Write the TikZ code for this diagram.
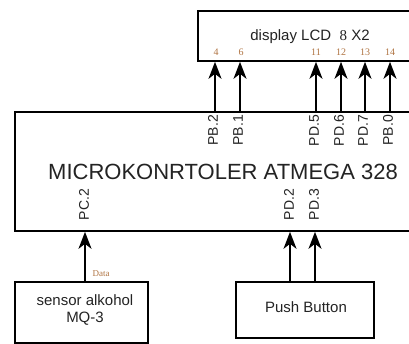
\documentclass[tikz,border=0pt]{standalone}
\usepackage{fontspec}
\setmainfont{Liberation Sans}
\newfontfamily\seriff{Liberation Serif}
\usetikzlibrary{arrows.meta}
\definecolor{pinnum}{RGB}{175,115,65}
\definecolor{txt}{RGB}{35,35,35}
\begin{document}
\begin{tikzpicture}[x=1pt,y=-1pt,
  box/.style={draw=black,line width=1.8pt,inner sep=0pt},
  arr/.style={line width=1.8pt,-{Stealth[length=17pt,width=13pt,inset=5pt]}},
  pin/.style={rotate=90,anchor=east,font=\fontsize{14}{14}\selectfont,text=txt,inner sep=0pt},
  num/.style={font=\seriff\fontsize{10}{10}\selectfont,text=pinnum,inner sep=0pt},
  lbl/.style={font=\fontsize{15}{17}\selectfont,text=txt,align=center}]
\clip (0,0) rectangle (409,343);
% boxes
\node[box,anchor=north west,minimum width=230pt,minimum height=50pt] (lcd) at (197,10) {};
\node[box,anchor=north west,minimum width=420pt,minimum height=119pt] (mcu) at (14,111) {};
\node[box,anchor=north west,minimum width=133pt,minimum height=61pt] (sensor) at (14,281) {};
\node[box,anchor=north west,minimum width=138pt,minimum height=56pt] (push) at (235,281) {};
% texts
\node[lbl] (lcdtext) at (310,37) {display LCD\ \ {\seriff 8} X2};
\node[font=\fontsize{22}{22}\selectfont,text=txt] (mcutext) at (223,172) {MICROKONRTOLER ATMEGA 328};
\node[lbl] (senstext) at (85,310) {sensor alkohol\\MQ-3};
\node[lbl] (pushtext) at (306,307) {Push Button};
% pin x positions
\coordinate (x4) at (215,0);
\coordinate (x6) at (240,0);
\coordinate (x11) at (316,0);
\coordinate (x12) at (341,0);
\coordinate (x13) at (365,0);
\coordinate (x14) at (390,0);
\coordinate (xpc) at (85,0);
\coordinate (xpd2) at (290,0);
\coordinate (xpd3) at (315,0);
% arrows to LCD
\foreach \p in {x4,x6,x11,x12,x13,x14}
  \draw[arr] (mcu.north -| \p) -- (lcd.south -| \p);
% arrows from inputs
\draw[arr] (sensor.north -| xpc) -- (mcu.south -| xpc);
\draw[arr] (push.north -| xpd2) -- (mcu.south -| xpd2);
\draw[arr] (push.north -| xpd3) -- (mcu.south -| xpd3);
% LCD pin numbers
\node[num] (n4) at (216,52) {4};
\node[num] (n6) at (241,52) {6};
\node[num] (n11) at (316,52) {11};
\node[num] (n12) at (341,52) {12};
\node[num] (n13) at (365,52) {13};
\node[num] (n14) at (390,52) {14};
% MCU pin labels
\node[pin] (lpb2) at (213,115) {PB.2};
\node[pin] (lpb1) at (238,115) {PB.1};
\node[pin] (lpd5) at (314,115) {PD.5};
\node[pin] (lpd6) at (339,115) {PD.6};
\node[pin] (lpd7) at (363,115) {PD.7};
\node[pin] (lpb0) at (388,115) {PB.0};
\node[pin] (lpc2) at (84,189) {PC.2};
\node[pin] (lpd2) at (289,189) {PD.2};
\node[pin] (lpd3) at (314,189) {PD.3};
% data label
\node[num,font=\seriff\fontsize{9}{9}\selectfont] (data) at (101,274) {Data};
\end{tikzpicture}
\end{document}
